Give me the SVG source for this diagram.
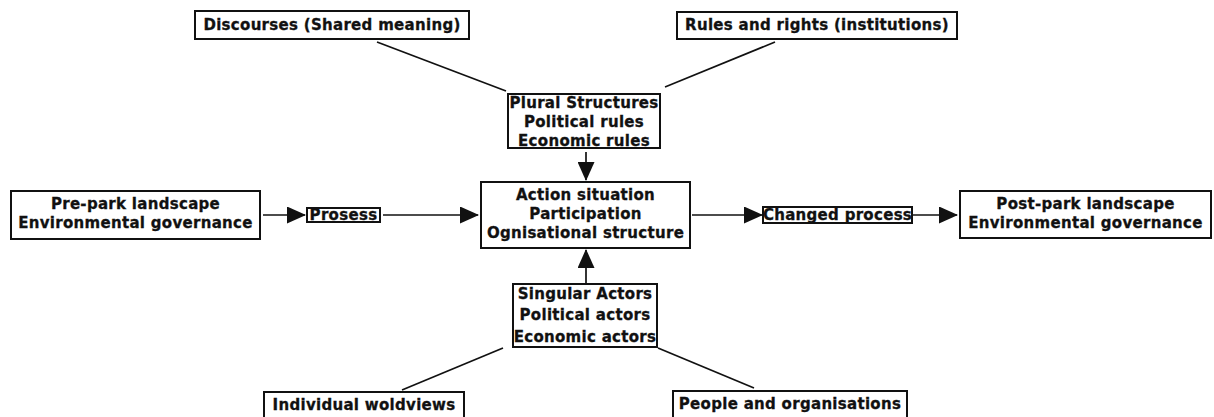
<svg xmlns="http://www.w3.org/2000/svg" width="1214" height="417" viewBox="0 0 1214 417">
<style>
.box{fill:#fff;stroke:#111;stroke-width:2}
.t{font-family:"DejaVu Sans","Verdana",sans-serif;font-weight:bold;font-size:15px;letter-spacing:0.3px;fill:#111;stroke:#111;stroke-width:0.3;text-anchor:middle}
.ln{stroke:#111;stroke-width:1.7;fill:none}
.ar{stroke:#111;stroke-width:1.7;fill:none;marker-end:url(#ah)}
</style>
<defs>
<marker id="ah" markerUnits="userSpaceOnUse" markerWidth="19" markerHeight="17" refX="18" refY="8.5" orient="auto">
<path d="M0,0 L19,8.5 L0,17 z" fill="#111"/>
</marker>
</defs>
<rect width="1214" height="417" fill="#fff"/>
<g id="connectors">
<line class="ln" x1="377" y1="42" x2="506" y2="91"/>
<line class="ln" x1="775" y1="42" x2="665" y2="87"/>
<line class="ln" x1="402" y1="390" x2="503" y2="348"/>
<line class="ln" x1="754" y1="388" x2="658" y2="348"/>
<line class="ar" x1="586" y1="152" x2="586" y2="180"/>
<line class="ar" x1="586" y1="283" x2="586" y2="250"/>
<line class="ar" x1="263" y1="215" x2="305" y2="215"/>
<line class="ar" x1="383" y1="215" x2="478" y2="215"/>
<line class="ar" x1="692" y1="215" x2="762" y2="215"/>
<line class="ar" x1="913" y1="215" x2="957" y2="215"/>
</g>
<g id="discourses">
<rect class="box" x="195" y="11" width="274" height="28"/>
<text class="t" x="332" y="30">Discourses (Shared meaning)</text>
</g>
<g id="rules">
<rect class="box" x="677" y="12" width="280" height="27"/>
<text class="t" x="817" y="30">Rules and rights (institutions)</text>
</g>
<g id="plural">
<rect class="box" x="508" y="94" width="152" height="54"/>
<text class="t" x="584" y="108">Plural Structures</text>
<text class="t" x="584" y="127">Political rules</text>
<text class="t" x="584" y="146">Economic rules</text>
</g>
<g id="action">
<rect class="box" x="481" y="182" width="209" height="66"/>
<text class="t" x="585.5" y="200">Action situation</text>
<text class="t" x="585.5" y="219">Participation</text>
<text class="t" x="585.5" y="238">Ognisational structure</text>
</g>
<g id="prepark">
<rect class="box" x="11" y="191" width="249" height="48"/>
<text class="t" x="135.5" y="209">Pre-park landscape</text>
<text class="t" x="135.5" y="228">Environmental governance</text>
</g>
<g id="prosess">
<rect class="box" x="307" y="208" width="73" height="14"/>
<text class="t" x="343.5" y="220">Prosess</text>
</g>
<g id="changed">
<rect class="box" x="763" y="207" width="149" height="16"/>
<text class="t" x="837.5" y="220">Changed process</text>
</g>
<g id="postpark">
<rect class="box" x="960" y="191" width="251" height="47"/>
<text class="t" x="1085.5" y="209">Post-park landscape</text>
<text class="t" x="1085.5" y="228">Environmental governance</text>
</g>
<g id="singular">
<rect class="box" x="513" y="284" width="144" height="63"/>
<text class="t" x="585" y="299">Singular Actors</text>
<text class="t" x="585" y="320">Political actors</text>
<text class="t" x="585" y="342">Economic actors</text>
</g>
<g id="individual">
<rect class="box" x="264" y="392" width="200" height="30"/>
<text class="t" x="364" y="410">Individual woldviews</text>
</g>
<g id="people">
<rect class="box" x="673" y="391" width="234" height="30"/>
<text class="t" x="790" y="409">People and organisations</text>
</g>
</svg>
